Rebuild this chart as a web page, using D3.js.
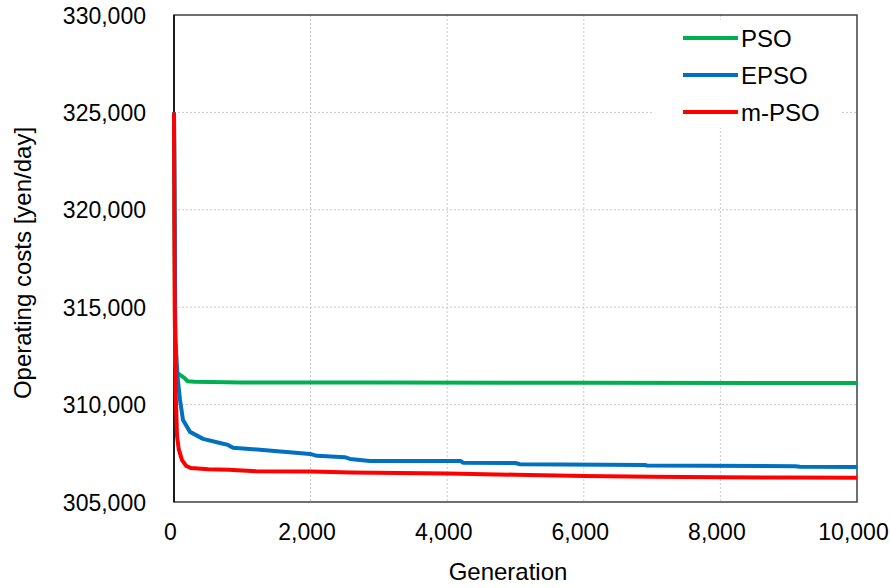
<!DOCTYPE html>
<meta charset="utf-8">
<style>

body {
  margin: 0;
  background: #ffffff;
}

svg text {
  font-family: "Liberation Sans", Arial, sans-serif;
  fill: #000000;
}

.grid line {
  stroke: #c8c8c8;
  stroke-width: 1px;
  stroke-dasharray: 2,2;
}

.series path {
  fill: none;
  stroke-width: 4px;
  stroke-linejoin: round;
}

</style>

<svg width="890" height="588"></svg>
<script src="https://d3js.org/d3.v7.min.js"></script>
<script>

// generation values with operating costs [yen/day]
var seriesNames = ["PSO", "EPSO", "m-PSO"];
var seriesColors = ["#00b050", "#0070c0", "#ff0000"];

var psoValues = [
  [0, 325000], [20, 312000], [50, 311620], [100, 311500], [150, 311370],
  [200, 311200], [300, 311170], [1000, 311140], [3000, 311130],
  [6000, 311120], [10000, 311110]
];

var epsoValues = [
  [0, 325000], [20, 313500], [50, 311500], [88, 310240], [132, 309210],
  [234, 308600], [425, 308240], [673, 308030], [790, 307930], [864, 307780],
  [1300, 307670], [1650, 307570], [1990, 307470], [2094, 307370],
  [2500, 307300], [2577, 307210], [2870, 307110], [3600, 307100],
  [4200, 307100], [4231, 307020], [5000, 307000], [5066, 306940],
  [6900, 306900], [6925, 306870], [9100, 306840], [9165, 306815],
  [10000, 306800]
];

var mpsoValues = [
  [0, 325000], [10, 315000], [25, 310500], [44, 308400], [70, 307700],
  [117, 307150], [180, 306850], [250, 306740], [500, 306680], [800, 306660],
  [1000, 306620], [1200, 306580], [2000, 306560], [2600, 306520],
  [4000, 306460], [5000, 306400], [6000, 306340], [7000, 306290],
  [8000, 306270], [9000, 306260], [10000, 306240]
];

var xTicks = [0, 2000, 4000, 6000, 8000, 10000];
var yTicks = [305000, 310000, 315000, 320000, 325000, 330000];

var allSeries = [psoValues, epsoValues, mpsoValues];

var svg = d3.select("svg");
var margin = {top: 15, right: 33, bottom: 86, left: 174};
var width = +svg.attr("width") - margin.left - margin.right,
  height = +svg.attr("height") - margin.top - margin.bottom;

var g = svg.append("g")
  .attr("transform", "translate(" + margin.left + "," + margin.top + ")");

var x = d3.scaleLinear().domain([0, 10000]).range([0, width]);
var y = d3.scaleLinear().domain([305000, 330000]).range([height, 0]);
var fmt = d3.format(",");

// dotted grid
var grid = g.append("g").attr("class", "grid");
grid.selectAll(".gx")
  .data(xTicks.slice(1, -1))
  .enter().append("line")
    .attr("x1", function(d) { return x(d); })
    .attr("x2", function(d) { return x(d); })
    .attr("y1", 0)
    .attr("y2", height);
grid.selectAll(".gy")
  .data(yTicks.slice(1, -1))
  .enter().append("line")
    .attr("x1", 0)
    .attr("x2", width)
    .attr("y1", function(d) { return y(d); })
    .attr("y2", function(d) { return y(d); });

// legend background hides the grid behind it
g.append("rect")
  .attr("x", 480)
  .attr("y", 5)
  .attr("width", 187)
  .attr("height", 108)
  .attr("fill", "#ffffff");

// frame
g.append("rect")
  .attr("x", 0)
  .attr("y", 0)
  .attr("width", width)
  .attr("height", height)
  .attr("fill", "none")
  .attr("stroke", "#404040")
  .attr("stroke-width", 1.5);
g.append("line")
  .attr("x1", 0).attr("x2", 0)
  .attr("y1", 0).attr("y2", height)
  .attr("stroke", "#000000")
  .attr("stroke-width", 1.5);

// axes via d3 axis, ticks hidden
var xAxis = g.append("g")
  .attr("transform", "translate(0," + height + ")")
  .call(d3.axisBottom(x).tickValues(xTicks).tickFormat(fmt).tickSize(0).tickPadding(0));
xAxis.select(".domain").remove();
xAxis.selectAll("text")
  .attr("dy", null)
  .attr("y", 38)
  .attr("dx", -4)
  .attr("font-size", "23px")
  .attr("font-family", null);

var yAxis = g.append("g")
  .call(d3.axisLeft(y).tickValues(yTicks).tickFormat(fmt).tickSize(0).tickPadding(28));
yAxis.select(".domain").remove();
yAxis.selectAll("text")
  .attr("dy", "0.35em")
  .attr("font-size", "23px")
  .attr("font-family", null);

// lines
var line = d3.line()
  .x(function(d) { return x(d[0]); })
  .y(function(d) { return y(d[1]); });

g.append("g")
    .attr("class", "series")
  .selectAll("path")
  .data(allSeries)
  .enter().append("path")
    .attr("stroke", function(d, i) { return seriesColors[i]; })
    .attr("d", line);

// legend
var legend = g.selectAll(".legend")
  .data(seriesNames)
  .enter().append("g")
    .attr("class", "legend")
    .attr("transform", function(d, i) { return "translate(509," + (23 + i * 37) + ")"; });

legend.append("line")
  .attr("x1", 0)
  .attr("x2", 55)
  .attr("stroke", function(d, i) { return seriesColors[i]; })
  .attr("stroke-width", 4);

legend.append("text")
  .attr("x", 58)
  .attr("dy", "0.36em")
  .attr("font-size", "24px")
  .text(function(d) { return d; });

// axis titles
svg.append("text")
  .attr("x", 508)
  .attr("y", 580)
  .attr("text-anchor", "middle")
  .attr("font-size", "24px")
  .text("Generation");

svg.append("text")
  .attr("transform", "translate(31,263) rotate(-90)")
  .attr("text-anchor", "middle")
  .attr("font-size", "24px")
  .text("Operating costs [yen/day]");

</script>
